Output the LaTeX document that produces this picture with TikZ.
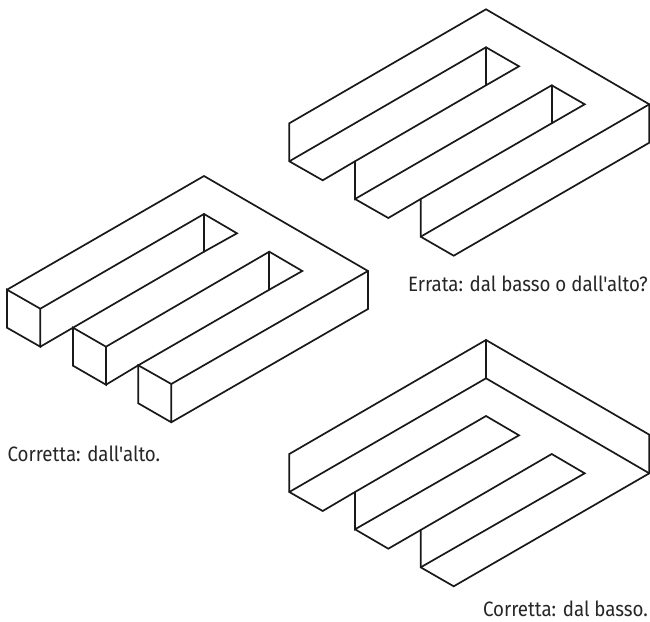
\documentclass[tikz,border=0pt]{standalone}
\usepackage{fontspec}
\setmainfont[Ligatures=TeXOff,FakeStretch=0.9]{Fira Sans}
\tikzset{
  edgeline/.style={line width=1.7pt,line join=miter,line cap=round,color=black!90},
  caption/.style={anchor=base west,inner sep=0pt,outer sep=0pt,font=\fontsize{20.8pt}{22pt}\selectfont,text=black!85}
}
\begin{document}
\begin{tikzpicture}[x=1pt,y=-1pt]
\useasboundingbox (0,0) rectangle (650,621);
\fill[white] (0,0) rectangle (650,621);
% top right figure
\begin{scope}[edgeline]
\draw (289.3,161.3) -- (289.3,123.3) -- (486,9.3) -- (649.3,104.3) -- (649.3,142.7) -- (453.7,255.7) -- (420.7,236.7) -- (420.7,199);
\draw (289.3,161.3) -- (486,47.3) -- (519,66.3) -- (486,85.3) -- (355,161.3) -- (322.7,180.3) -- (289.3,161.3);
\draw (486,47.3) -- (486,85.3);
\draw (355,161.3) -- (355,199) -- (551.7,85.3) -- (584.7,104.3) -- (551.7,123.3) -- (420.7,199) -- (388.3,218) -- (355,199);
\draw (551.7,85.3) -- (551.7,123.3);
\draw (420.7,236.7) -- (649.3,104.3);
% left figure
\draw (204,176) -- (368,271) -- (368,309) -- (171.3,422.3) -- (138.3,403.3) -- (138.3,365.3) -- (171.3,384) -- (171.3,422.3);
\draw (171.3,384) -- (368,271);
\draw (138.3,365.3) -- (269.3,289.7) -- (302.3,271) -- (269.3,251.7) -- (106,346.7) -- (106,384.7) -- (73,365.7) -- (73,327.7) -- (106,346.7);
\draw (106,384.7) -- (138.3,365.3);
\draw (269.3,251.7) -- (269.3,289.7);
\draw (73,327.7) -- (204,251.7) -- (237,233.3) -- (204,214) -- (40.3,308.7) -- (40.3,346.7) -- (7,327.7) -- (7,289.7) -- (40.3,308.7);
\draw (40.3,346.7) -- (73,327.7);
\draw (204,214) -- (204,251.7);
\draw (7,289.7) -- (204,176);
% bottom right figure
\draw (289.3,492) -- (289.3,454) -- (486,340) -- (649.3,434.7) -- (649.3,473.3) -- (453.7,586.3) -- (420.7,567.3) -- (420.7,530);
\draw (486,340) -- (486,378.3);
\draw (289.3,492) -- (486,378.3) -- (649.3,473.3);
\draw (289.3,492) -- (322.7,511) -- (355,492) -- (486,416) -- (519,435.3) -- (355,529.3) -- (355,492);
\draw (355,529.3) -- (388.3,548.7) -- (420.7,530) -- (551.7,454) -- (584.7,473.3) -- (420.7,567.3);
\end{scope}
\node[caption] (errata) at (408,291) {Errata: dal basso o dall'alto?};
\node[caption] (alto) at (7.5,461.5) {Corretta: dall'alto.};
\node[caption] (basso) at (483,616.5) {Corretta: dal basso.};
\end{tikzpicture}
\end{document}
